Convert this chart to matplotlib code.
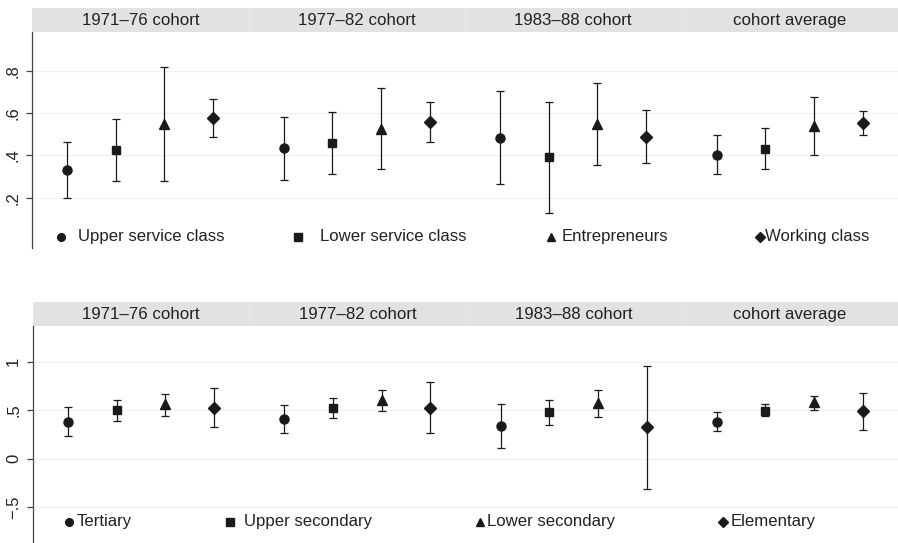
import matplotlib.pyplot as plt

plt.rcParams['font.family'] = ['Liberation Sans', 'DejaVu Sans']

# cohort groups (facets)
cohorts = ["1971\u201376 cohort", "1977\u201382 cohort", "1983\u201388 cohort", "cohort average"]

# top panel: social class
class_labels = ["Upper service class", "Lower service class", "Entrepreneurs", "Working class"]
upper_service_est = [0.329, 0.435, 0.485, 0.403]
upper_service_lo = [0.197, 0.286, 0.266, 0.313]
upper_service_hi = [0.464, 0.583, 0.707, 0.495]
lower_service_est = [0.424, 0.457, 0.392, 0.430]
lower_service_lo = [0.277, 0.313, 0.127, 0.334]
lower_service_hi = [0.571, 0.606, 0.653, 0.531]
entrepreneurs_est = [0.550, 0.528, 0.550, 0.542]
entrepreneurs_lo = [0.277, 0.337, 0.355, 0.403]
entrepreneurs_hi = [0.819, 0.718, 0.743, 0.677]
working_est = [0.577, 0.560, 0.490, 0.553]
working_lo = [0.490, 0.465, 0.362, 0.497]
working_hi = [0.667, 0.653, 0.618, 0.612]

# bottom panel: education
edu_labels = ["Tertiary", "Upper secondary", "Lower secondary", "Elementary"]
tertiary_est = [0.381, 0.409, 0.337, 0.381]
tertiary_lo = [0.234, 0.265, 0.107, 0.286]
tertiary_hi = [0.533, 0.550, 0.564, 0.478]
upper_sec_est = [0.500, 0.523, 0.478, 0.495]
upper_sec_lo = [0.392, 0.423, 0.350, 0.440]
upper_sec_hi = [0.602, 0.622, 0.605, 0.564]
lower_sec_est = [0.564, 0.605, 0.577, 0.585]
lower_sec_lo = [0.443, 0.489, 0.426, 0.505]
lower_sec_hi = [0.670, 0.708, 0.711, 0.643]
elementary_est = [0.526, 0.526, 0.327, 0.488]
elementary_lo = [0.330, 0.265, -0.312, 0.296]
elementary_hi = [0.726, 0.788, 0.962, 0.677]

top_ticks = [0.2, 0.4, 0.6, 0.8]
top_ticklabels = [".2", ".4", ".6", ".8"]
bot_ticks = [-0.5, 0, 0.5, 1]
bot_ticklabels = ["\u2212.5", "0", ".5", "1"]

markers = ["o", "s", "^", "D"]
msizes = [6.5, 6.3, 7.2, 6.2]
ink = "#1a1a1a"

W, H = 898, 543
fig = plt.figure(figsize=(W / 100, H / 100), dpi=100)


def px_axes(x0, y0, x1, y1):
    # pixel box (top-left origin) -> figure axes
    return fig.add_axes([x0 / W, (H - y1) / H, (x1 - x0) / W, (y1 - y0) / H])


def strip(x0, y0, x1, y1):
    sa = px_axes(x0, y0, x1, y1)
    sa.set_facecolor("#e2e2e2")
    sa.set_xlim(0, 4)
    sa.set_ylim(0, 1)
    for s in sa.spines.values():
        s.set_visible(False)
    sa.set_xticks([])
    sa.set_yticks([])
    for g in range(1, 4):
        sa.axvline(g, color="#e7e7e7", lw=1)
    for g, name in enumerate(cohorts):
        sa.text(g + 0.5, 0.47, name, ha="center", va="center", fontsize=12.2, color="#222222")


def panel(x0, y0, x1, y1, ylim, ticks, ticklabels, series, labels, legend_pos):
    ax = px_axes(x0, y0, x1, y1)
    ax.set_xlim(0, 4)
    ax.set_ylim(*ylim)
    for t in ticks:
        ax.axhline(t, color="#edf1f1", lw=0.9, zorder=0)
    for i, (est, lo, hi) in enumerate(series):
        xs = [g + 0.162 + 0.225 * i for g in range(len(est))]
        err = [[e - l for e, l in zip(est, lo)], [h - e for e, h in zip(est, hi)]]
        ax.errorbar(xs, est, yerr=err, fmt=markers[i], ms=msizes[i], color=ink,
                    ecolor=ink, elinewidth=0.9, capsize=2.6, capthick=0.9, zorder=3)
    for s in ["top", "right", "bottom"]:
        ax.spines[s].set_visible(False)
    ax.spines["left"].set_color("#444444")
    ax.spines["left"].set_linewidth(0.9)
    ax.set_xticks([])
    ax.set_yticks(ticks)
    ax.set_yticklabels(ticklabels, rotation=90, va="center", fontsize=12, color="#222222")
    ax.tick_params(axis="y", length=4.5, width=0.9, color="#444444", pad=4)
    # legend keys
    ly = legend_pos[0]
    for i, lab in enumerate(labels):
        mx, tx = legend_pos[1][i], legend_pos[2][i]
        ax.plot([mx], [ly], marker=markers[i], ms=msizes[i] * 0.85, color=ink,
                transform=ax.transAxes, clip_on=False, linestyle="none")
        ax.text(tx, ly, lab, transform=ax.transAxes, ha="left", va="center",
                fontsize=12.1, color="#222222")
    return ax


top_series = [(upper_service_est, upper_service_lo, upper_service_hi),
              (lower_service_est, lower_service_lo, lower_service_hi),
              (entrepreneurs_est, entrepreneurs_lo, entrepreneurs_hi),
              (working_est, working_lo, working_hi)]
bot_series = [(tertiary_est, tertiary_lo, tertiary_hi),
              (upper_sec_est, upper_sec_lo, upper_sec_hi),
              (lower_sec_est, lower_sec_lo, lower_sec_hi),
              (elementary_est, elementary_lo, elementary_hi)]

strip(32, 8, 898, 32)
panel(32, 32, 898, 248, (-0.039, 0.986), top_ticks, top_ticklabels, top_series, class_labels,
      (0.051, [(61 - 32) / 866, (298 - 32) / 866, (551 - 32) / 866, (760 - 32) / 866],
       [(78 - 32) / 866, (320 - 32) / 866, (562 - 32) / 866, (765 - 32) / 866]))

strip(33, 302, 898, 326)
panel(33, 326, 898, 543, (-0.87, 1.37), bot_ticks, bot_ticklabels, bot_series, edu_labels,
      (0.098, [(69 - 33) / 865, (230 - 33) / 865, (480 - 33) / 865, (723 - 33) / 865],
       [(77 - 33) / 865, (244 - 33) / 865, (487 - 33) / 865, (731 - 33) / 865]))

fig.savefig("out.png", dpi=100)
